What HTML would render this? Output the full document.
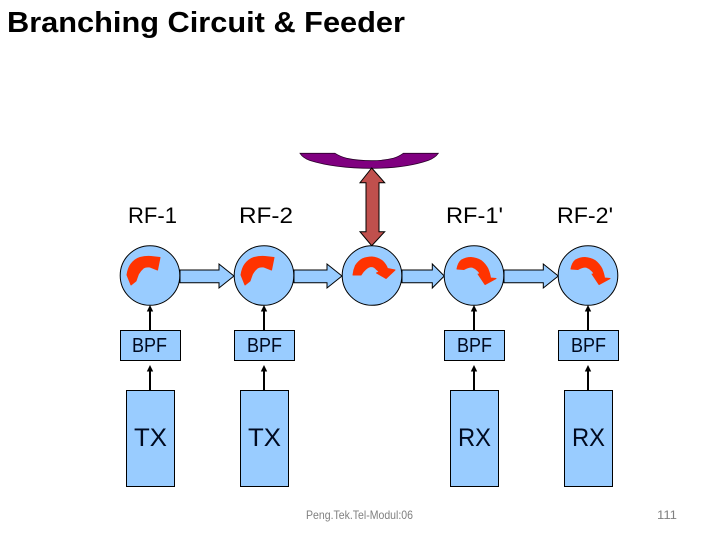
<!DOCTYPE html>
<html>
<head>
<meta charset="utf-8">
<style>
html,body{margin:0;padding:0;background:#fff;width:720px;height:540px;overflow:hidden}
svg{display:block}
text{font-family:"Liberation Sans",sans-serif}
.c{fill:#99ccff;stroke:#000;stroke-width:1}
.r{fill:#ff3300;stroke:#ff3300;stroke-width:1;stroke-linejoin:round}
.l{font-size:22px;fill:#000}
.b{font-size:20px;fill:#000a20}
.t{font-size:25px;fill:#000a20}
.f{font-size:12px;fill:#808080}
</style>
</head>
<body>
<svg width="720" height="540" viewBox="0 0 720 540" xmlns="http://www.w3.org/2000/svg">
<defs>
<g id="v">
<path d="M0 0V-19" stroke="#000" stroke-width="2" fill="none"/>
<path d="M0 -25L3.2 -18.500H-3.2Z" fill="#000"/>
</g>
<path id="cu" class="r" d="M131 285L127 275Q128 268 131 264Q135 259 140 257.500Q146 256 151 256.500L160 257.500L157.500 270L150 267Q146 266.500 143.500 268Q140.500 270.500 138.500 274Q137 278 136 281Z"/>
<path id="cd" class="r" d="M457 269Q458 263 461.500 260Q466 257.500 471 257.500Q476.500 258 481 260.500Q485.500 264 488 269Q490 274 490.500 278L496 278.500L485 284.500L478 274L480 274.500Q479.500 272 477.500 270.500Q475 268 472 267Q468 267 464 269.500Z"/>
</defs>

<text x="7" y="32" font-size="29" font-weight="700" fill="#000" textLength="398" lengthAdjust="spacingAndGlyphs">Branching Circuit &amp; Feeder</text>

<path d="M300 153.300H335Q340 156.500 346.700 158.300Q358 160.700 371.700 160.700Q384 160.700 393.300 158.300Q399 156.500 403.300 153.300H438.300Q435 158 428 160.500Q405 168.300 371.700 168.300Q335 168.300 310 160.500Q303 158 300 153.300Z" fill="#800080" stroke="#2a002a" stroke-width=".8"/>

<path d="M371.700 168L384.700 182.700H379V231.700H384.700L371.700 245.700L360 231.700H366V182.700H360Z" fill="#c0504d" stroke="#000" stroke-width="1"/>

<g fill="#99ccff" stroke="#000" stroke-width="1">
<path d="M180 270H219V264L234 276L219 288V282.700H180Z"/>
<path d="M294 270H327V264L342 276L327 288V282.700H294Z"/>
<path d="M402 270H432.300V264L444.300 276L432.300 288V282.700H402Z"/>
<path d="M504 270H543.300V264L558.300 276L543.300 288V282.700H504Z"/>
</g>

<circle class="c" cx="150" cy="275.500" r="29.800"/>
<circle class="c" cx="264" cy="275.500" r="29.800"/>
<circle class="c" cx="372" cy="275.500" r="29.800"/>
<circle class="c" cx="474" cy="275.500" r="29.800"/>
<circle class="c" cx="588" cy="275.500" r="29.800"/>

<use href="#cu"/>
<use href="#cu" x="114"/>
<path class="r" d="M353 275Q353.500 270 355.500 265.500Q358.500 261 362.500 258.800Q367 257 372 257Q378 257.500 382.500 261Q386 264.500 387.500 268.500L395 270L386 278.500L376.500 273L379 272Q378 270.500 376.500 269.500Q374.500 267 372 266.500Q368.500 266.500 366 269Q363 271.500 361 275Z"/>
<use href="#cd"/>
<use href="#cd" x="114"/>

<use href="#v" x="150" y="330"/><use href="#v" x="264" y="330"/><use href="#v" x="474" y="330"/><use href="#v" x="588" y="330"/>
<use href="#v" x="150" y="390"/><use href="#v" x="264" y="390"/><use href="#v" x="474" y="390"/><use href="#v" x="588" y="390"/>

<g fill="#99ccff" stroke="#000" stroke-width="1">
<rect x="120.500" y="330.500" width="60" height="30"/>
<rect x="234.500" y="330.500" width="60" height="30"/>
<rect x="444.500" y="330.500" width="60" height="30"/>
<rect x="558.500" y="330.500" width="60" height="30"/>
<rect x="126.500" y="390.500" width="48" height="96"/>
<rect x="240.500" y="390.500" width="48" height="96"/>
<rect x="450.500" y="390.500" width="48" height="96"/>
<rect x="564.500" y="390.500" width="48" height="96"/>
</g>

<text class="l" x="128" y="223" textLength="49" lengthAdjust="spacingAndGlyphs">RF-1</text>
<text class="l" x="239" y="223" textLength="54" lengthAdjust="spacingAndGlyphs">RF-2</text>
<text class="l" x="446" y="223" textLength="57" lengthAdjust="spacingAndGlyphs">RF-1'</text>
<text class="l" x="557" y="223" textLength="56" lengthAdjust="spacingAndGlyphs">RF-2'</text>

<text class="b" x="132" y="352" textLength="35" lengthAdjust="spacingAndGlyphs">BPF</text>
<text class="b" x="247" y="352" textLength="35" lengthAdjust="spacingAndGlyphs">BPF</text>
<text class="b" x="457" y="352" textLength="35" lengthAdjust="spacingAndGlyphs">BPF</text>
<text class="b" x="571" y="352" textLength="35" lengthAdjust="spacingAndGlyphs">BPF</text>

<text class="t" x="134" y="446" textLength="33" lengthAdjust="spacingAndGlyphs">TX</text>
<text class="t" x="248" y="446" textLength="33" lengthAdjust="spacingAndGlyphs">TX</text>
<text class="t" x="458" y="446" textLength="33" lengthAdjust="spacingAndGlyphs">RX</text>
<text class="t" x="572" y="446" textLength="33" lengthAdjust="spacingAndGlyphs">RX</text>

<text class="f" x="306" y="519" textLength="107" lengthAdjust="spacingAndGlyphs">Peng.Tek.Tel-Modul:06</text>
<text class="f" x="657" y="519" textLength="20" lengthAdjust="spacingAndGlyphs">111</text>
</svg>
</body>
</html>
